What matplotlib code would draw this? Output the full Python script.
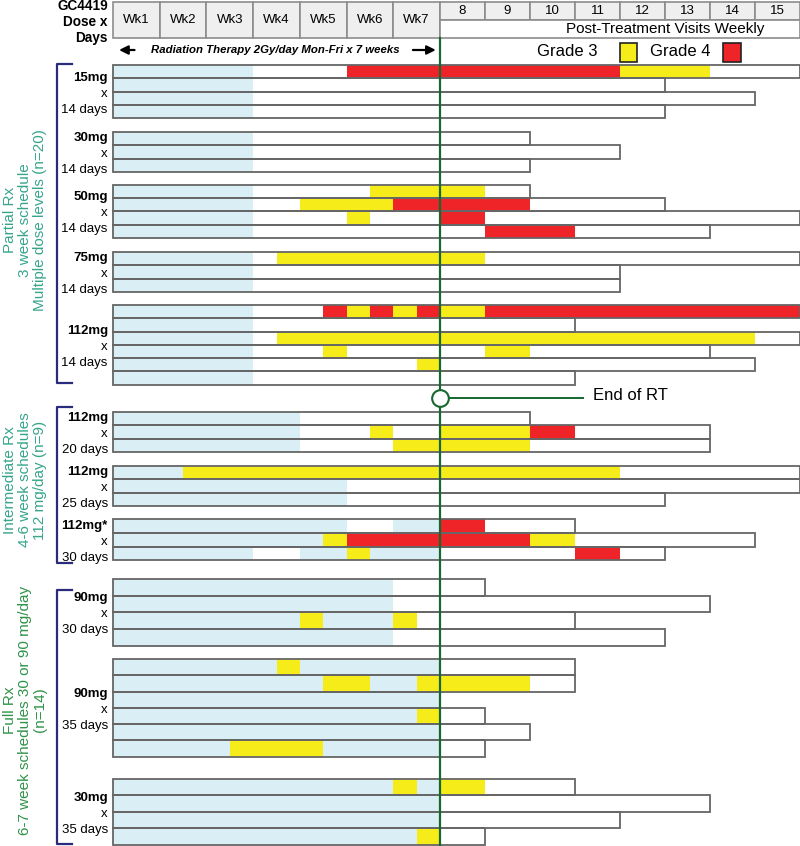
import numpy as np
import matplotlib.pyplot as plt
from matplotlib.patches import Rectangle

plt.rcParams['font.family'] = ['Liberation Sans', 'DejaVu Sans']

# ---- data ----
rt_weeks = ['Wk1', 'Wk2', 'Wk3', 'Wk4', 'Wk5', 'Wk6', 'Wk7']
post_weeks = [8, 9, 10, 11, 12, 13, 14, 15]

group_dose = ['15mg', '30mg', '50mg', '75mg', '112mg', '112mg', '112mg', '112mg*',
              '90mg', '90mg', '30mg']
group_days = ['14 days', '14 days', '14 days', '14 days', '14 days', '20 days',
              '25 days', '30 days', '30 days', '35 days', '35 days']
group_size = [4, 3, 4, 3, 6, 3, 3, 3, 4, 6, 4]

arm_names = [['Partial Rx', '3 week schedule', 'Multiple dose levels (n=20)'],
             ['Intermediate Rx', '4-6 week schedules', '112 mg/day (n=9)'],
             ['Full Rx', '6-7 week schedules 30 or 90 mg/day', '(n=14)']]

# GC4419 dosing periods (weeks), one entry per patient row, top to bottom
row_rx = [[(0, 3)]] * 20 + [[(0, 4)]] * 3 + [[(0, 1.5)], [(0, 5)], [(0, 5)]] + \
         [[(0, 5), (6, 7)], [(0, 4.5)], [(0, 3), (4, 7)]] + \
         [[(0, 6)]] * 4 + [[(0, 7)]] * 10

# last week of follow-up
row_end = [15, 12, 14, 12,
           9, 11, 9,
           9, 12, 15, 13,
           15, 11, 11,
           15, 10, 15, 13, 14, 10,
           9, 13, 13,
           15, 15, 12,
           10, 14, 12,
           8, 13, 10, 12,
           10, 10, 7, 8, 9, 8,
           10, 13, 11, 8]

# (start week, end week, grade)
row_tox = [[(5, 11, 4), (11, 13, 3)], [], [], [],
           [], [], [],
           [(5.5, 8, 3)], [(4, 6, 3), (6, 9, 4)], [(5, 5.5, 3), (7, 8, 4)], [(8, 10, 4)],
           [(3.5, 8, 3)], [], [],
           [(4.5, 5, 4), (5, 5.5, 3), (5.5, 6, 4), (6, 6.5, 3), (6.5, 7, 4), (7, 8, 3), (8, 15, 4)],
           [], [(3.5, 14, 3)], [(4.5, 5, 3), (8, 9, 3)], [(6.5, 7, 3)], [],
           [], [(5.5, 6, 3), (7, 9, 3), (9, 10, 4)], [(6, 9, 3)],
           [(1.5, 11, 3)], [], [],
           [(7, 8, 4)], [(4.5, 5, 3), (5, 9, 4), (9, 10, 3)], [(5, 5.5, 3), (10, 11, 4)],
           [], [], [(4, 4.5, 3), (6, 6.5, 3)], [],
           [(3.5, 4, 3)], [(4.5, 5.5, 3), (6.5, 9, 3)], [], [(6.5, 7, 3)], [], [(2.5, 4.5, 3)],
           [(6, 6.5, 3), (7, 8, 3)], [], [], [(6.5, 7, 3)]]

# ---- layout ----
group_top = [65, 132, 185, 252, 305, 412, 466, 519, 579, 659, 779]
group_rowh = [13.3, 13.3, 13.2, 13.3, 13.3, 13.3, 13.3, 13.8, 16.7, 16.3, 16.5]
arm_span = [(64, 383), (407, 563), (590, 844)]
arm_mid = [220, 480, 710]
arm_color = ['#35a58a', '#35a58a', '#2f9248']

BLUE = '#daeef5'
GRADE_COL = {3: '#f5ec1a', 4: '#ee2428'}
EDGE = '#666666'
GREEN = '#17672f'

# RT weeks are drawn a little wider than follow-up weeks
PRE = (440 - 113) / 7 / 45


def fwd(x):
    x = np.asarray(x, float)
    return np.where(x <= 7, x * PRE, 7 * PRE + x - 7)


def inv(u):
    u = np.asarray(u, float)
    return np.where(u <= 7 * PRE, u / PRE, u - 7 * PRE + 7)


fig = plt.figure(figsize=(8, 8.46), dpi=100)
ax = fig.add_axes([0, 0, 1, 1])
ax.set_xscale('function', functions=(fwd, inv))
ax.set_xlim(-113 / 45 / PRE, 15)
ax.set_ylim(846, 0)
ax.axis('off')

# header table
for i, lab in enumerate(rt_weeks):
    ax.add_patch(Rectangle((i, 2), 1, 36, fc='#efefef', ec='#8c8c8c', lw=1.2))
    ax.text(i + 0.5, 20, lab, ha='center', va='center', fontsize=9.5)
for i, wk in enumerate(post_weeks):
    ax.add_patch(Rectangle((7 + i, 2), 1, 18, fc='#efefef', ec='#8c8c8c', lw=1.2))
    ax.text(7.5 + i, 11, str(wk), ha='center', va='center', fontsize=9.5)
ax.add_patch(Rectangle((7, 20), 8, 18, fc='white', ec='#8c8c8c', lw=1.2))
ax.text(12, 29.5, 'Post-Treatment Visits Weekly', ha='center', va='center', fontsize=11)
for j, s in enumerate(['GC4419', 'Dose x', 'Days']):
    ax.text(-0.11, 6 + 16 * j, s, ha='right', va='center', fontsize=9.8, fontweight='bold')

# RT arrow row
ax.text(3.47, 50, 'Radiation Therapy 2Gy/day Mon-Fri x 7 weeks', ha='center', va='center',
        fontsize=8.2, fontweight='bold', style='italic')
ax.annotate('', xy=(0.07, 50), xytext=(0.52, 50),
            arrowprops=dict(arrowstyle='-|>', color='black', lw=1.6, mutation_scale=13))
ax.annotate('', xy=(6.97, 50), xytext=(6.36, 50),
            arrowprops=dict(arrowstyle='-|>', color='black', lw=1.6, mutation_scale=13))

# legend
ax.text(9.82, 52, 'Grade 3', ha='center', va='center', fontsize=12)
ax.add_patch(Rectangle((11.0, 43), 0.38, 19, fc=GRADE_COL[3], ec='#222222', lw=1.2))
ax.text(12.33, 52, 'Grade 4', ha='center', va='center', fontsize=12)
ax.add_patch(Rectangle((13.29, 43), 0.4, 19, fc=GRADE_COL[4], ec='#222222', lw=1.2))

# patient rows
r = 0
for g, n in enumerate(group_size):
    top, h = group_top[g], group_rowh[g]
    for k in range(n):
        y0 = top + k * h
        ax.add_patch(Rectangle((0, y0), row_end[r], h, fc='white', ec='none', zorder=1))
        for a, b in row_rx[r]:
            ax.add_patch(Rectangle((a, y0), b - a, h, fc=BLUE, ec='none', zorder=2))
        for a, b, grade in row_tox[r]:
            ax.add_patch(Rectangle((a, y0), b - a, h, fc=GRADE_COL[grade], ec='none', zorder=3))
        ax.add_patch(Rectangle((0, y0), row_end[r], h, fc='none', ec=EDGE, lw=1.3, zorder=4))
        r += 1
    yc = top + n * h / 2 + 2
    ax.text(-0.11, yc - 16, group_dose[g], ha='right', va='center', fontsize=9.5, fontweight='bold')
    ax.text(-0.11, yc, 'x', ha='right', va='center', fontsize=9.5)
    ax.text(-0.11, yc + 16, group_days[g], ha='right', va='center', fontsize=9.5)

# arm brackets and titles
for names, (y_top, y_bot), ym, col in zip(arm_names, arm_span, arm_mid, arm_color):
    ax.plot([-0.88, -1.2, -1.2, -0.88], [y_top, y_top, y_bot, y_bot], color='#2b2b7e', lw=1.6)
    ax.text(-1.884, ym, '\n'.join(names), rotation=90, ha='center',
            va='center', multialignment='center', fontsize=11, color=col, linespacing=1.1)

# end of radiation therapy
ax.plot([7, 7], [38, 846], color=GREEN, lw=1.6, zorder=6)
ax.plot([7], [398], marker='o', ms=12, mfc='white', mec=GREEN, mew=1.5, zorder=7)
ax.plot([7.18, 10.18], [398, 398], color=GREEN, lw=1.4, zorder=6)
ax.text(10.4, 396, 'End of RT', ha='left', va='center', fontsize=12)

fig.savefig('out.png', dpi=100)
